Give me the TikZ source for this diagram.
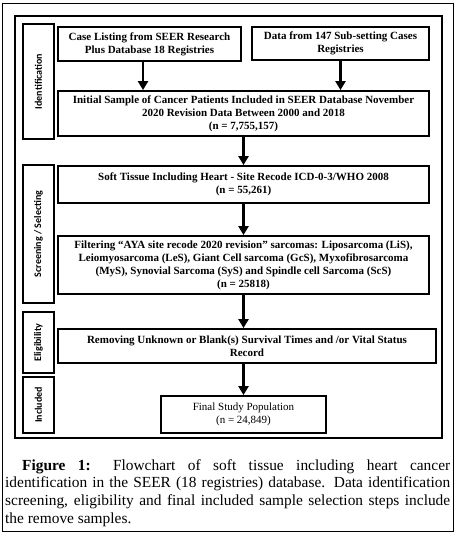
\documentclass[tikz,border=0pt]{standalone}
\usepackage{fontspec}
\setmainfont{Liberation Serif}
\newfontfamily\labelfont{Carlito}
\usetikzlibrary{arrows.meta}
\begin{document}
\begin{tikzpicture}[x=1pt,y=-1pt,
  box/.style={draw, line width=1.8pt, font=\fontsize{11}{13}\selectfont\bfseries, align=center, inner sep=0pt},
  lab/.style={draw, line width=1.8pt, rotate=90, font=\labelfont\bfseries\fontsize{10}{11}\selectfont, inner sep=0pt, minimum height=31pt},
  arr/.style={line width=2.5pt, -{Triangle[length=9pt,width=10pt]}}]
\useasboundingbox (0,0) rectangle (457,538);
\draw[line width=0.8pt] (2.5,3) rectangle (453.5,531);
\draw[line width=2.8pt] (15,16) rectangle (442,438);
% stage labels
\node[lab, minimum width=115pt] (lid) at (38.5,81.5) {Identification};
\node[lab, minimum width=138pt] (lsc) at (38.5,234) {Screening / Selecting};
\node[lab, minimum width=61pt] (lel) at (38.5,342.5) {Eligibility};
\node[lab, minimum width=56pt] (lin) at (38.5,405) {Included};
% boxes
\node[box, minimum width=183pt, minimum height=34pt] (b1) at (149.5,44) {Case Listing from SEER Research\\Plus Database 18 Registries};
\node[box, minimum width=177pt, minimum height=33pt] (b2) at (340.5,43.5) {Data from 147 Sub-setting Cases\\Registries};
\node[box, minimum width=371pt, minimum height=45pt] (b3) at (243.5,113.5) {Initial Sample of Cancer Patients Included in SEER Database November\\2020 Revision Data Between 2000 and 2018\\(n = 7,755,157)};
\node[box, minimum width=371pt, minimum height=37pt] (b4) at (243.5,184.5) {Soft Tissue Including Heart - Site Recode ICD-0-3/WHO 2008\\(n = 55,261)};
\node[box, minimum width=371pt, minimum height=58pt] (b5) at (243.5,265) {Filtering “AYA site recode 2020 revision” sarcomas: Liposarcoma (LiS),\\Leiomyosarcoma (LeS), Giant Cell sarcoma (GcS), Myxofibrosarcoma\\(MyS), Synovial Sarcoma (SyS) and Spindle cell Sarcoma (ScS)\\(n = 25818)};
\node[box, minimum width=378pt, minimum height=34pt] (b6) at (247,346) {Removing Unknown or Blank(s) Survival Times and /or Vital Status\\Record};
\node[box, font=\fontsize{11}{13}\selectfont, minimum width=165pt, minimum height=37pt] (b7) at (243.5,414.5) {Final Study Population\\(n = 24,849)};
% arrows
\draw[arr] ([xshift=-6.5pt]b1.south) -- ([xshift=-6.5pt]b1.south |- b3.north);
\draw[arr] (b2.south) -- (b2.south |- b3.north);
\draw[arr] (b3.south) -- (b3.south |- b4.north);
\draw[arr] (b4.south) -- (b4.south |- b5.north);
\draw[arr] (b5.south) -- (b5.south |- b6.north);
\draw[arr] (b5.south |- b6.south) -- (b7.north);
% caption
\node[anchor=north west, text width=445pt, align=justify, inner sep=0pt, font=\fontsize{15.4}{17.8}\selectfont] (cap) at (5,459) {\hyphenpenalty=10000\hspace*{17pt}\textbf{Figure 1:} Flowchart of soft tissue including heart cancer\linebreak identification in the SEER (18 registries) database. Data identification\linebreak screening, eligibility and final included sample selection steps include\linebreak the remove samples.};
\end{tikzpicture}
\end{document}
